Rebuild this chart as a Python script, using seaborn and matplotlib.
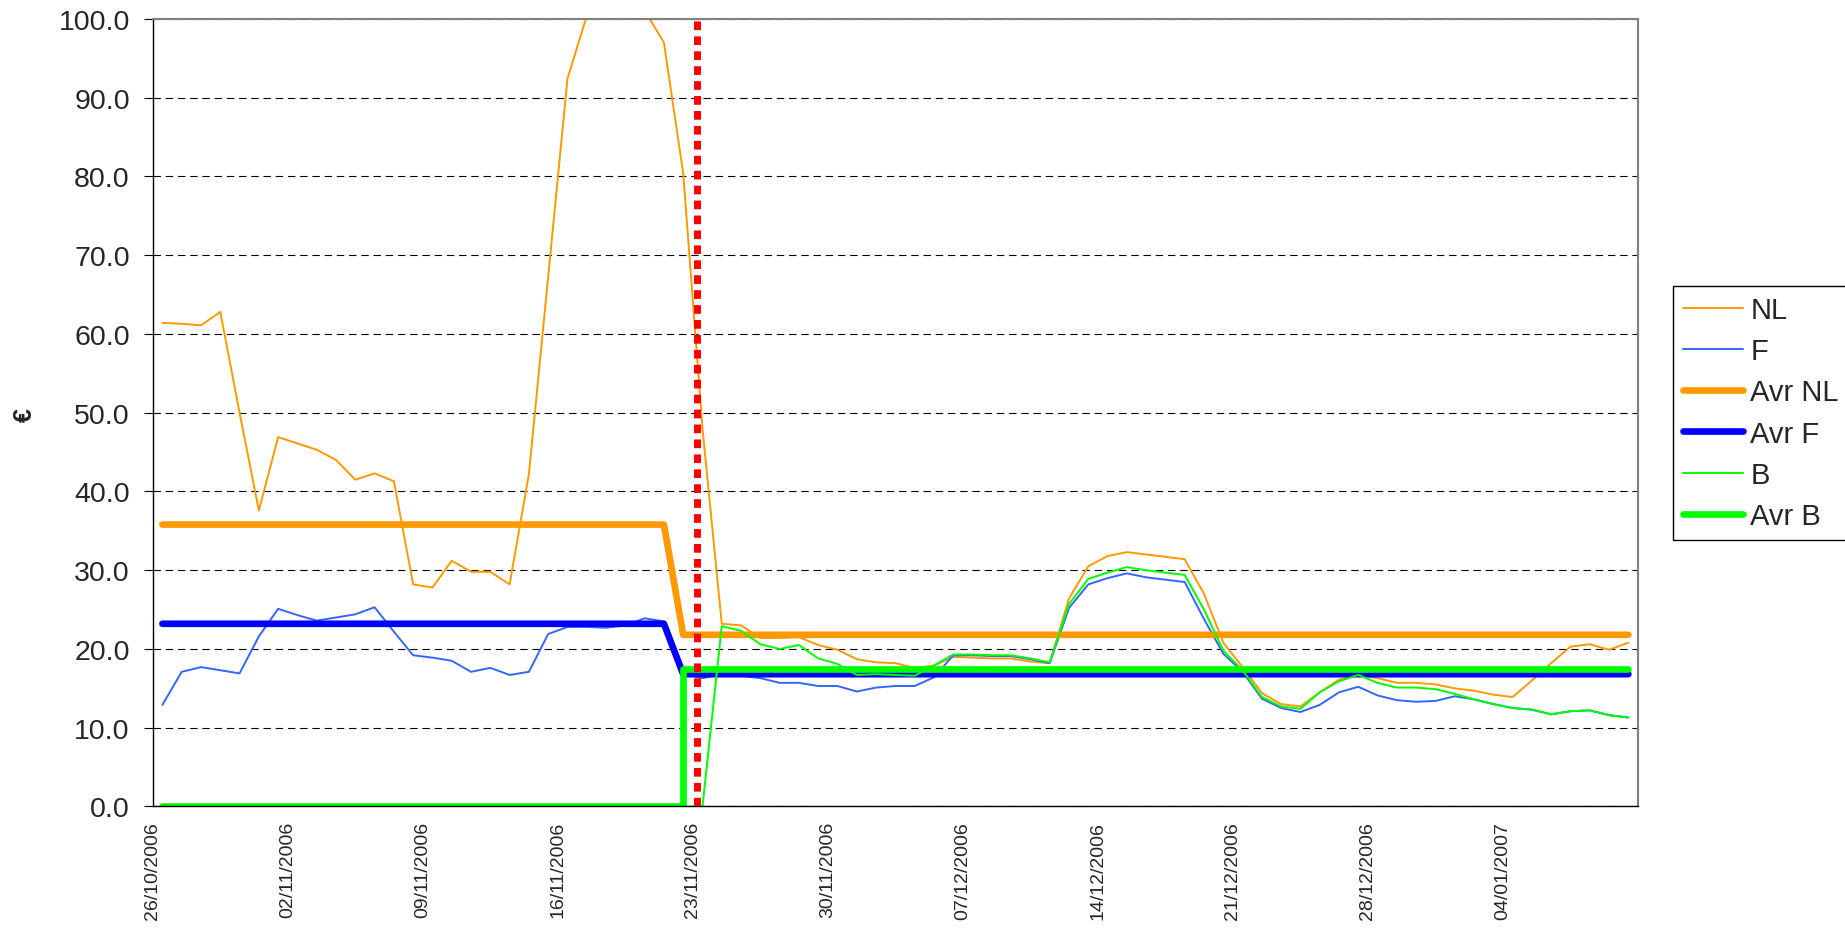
"""
Daily price chart NL / F / B with period averages (26/10/2006 - 10/01/2007)
"""

import pandas as pd
import matplotlib.pyplot as plt
import seaborn as sns

sns.set_style("white")
plt.rcParams['font.family'] = ['Liberation Sans', 'DejaVu Sans']

# ------------------------------------------------------------
# Data
# ------------------------------------------------------------
dates = pd.date_range('2006-10-26', '2007-01-10', freq='D')

nl = [61.4, 61.3, 61.1, 62.8, 50.0, 37.6, 46.9, 46.1, 45.3, 44.0,
      41.5, 42.3, 41.3, 28.2, 27.8, 31.2, 29.8, 29.8, 28.2, 42.2,
      67.3, 92.4, 100.4, 108.0, 107.0, 101.1, 97.0, 80.4, 48.0, 23.2,
      23.0, 21.4, 21.4, 21.5, 20.5, 19.9, 18.7, 18.3, 18.2, 17.6,
      17.9, 19.0, 18.9, 18.8, 18.8, 18.4, 18.2, 26.4, 30.5, 31.8,
      32.3, 32.0, 31.7, 31.4, 27.0, 20.8, 17.7, 14.4, 13.0, 12.7,
      14.5, 16.1, 16.7, 16.3, 15.7, 15.7, 15.5, 15.0, 14.7, 14.2,
      13.9, 16.0, 18.2, 20.3, 20.6, 19.9, 20.8]

f = [12.9, 17.1, 17.7, 17.3, 16.9, 21.6, 25.1, 24.3, 23.6, 24.0,
     24.4, 25.3, 22.2, 19.2, 18.9, 18.5, 17.1, 17.6, 16.7, 17.1,
     21.9, 22.8, 22.8, 22.7, 23.0, 23.9, 23.5, 16.8, 16.3, 16.8,
     16.6, 16.3, 15.7, 15.7, 15.3, 15.3, 14.6, 15.1, 15.3, 15.3,
     16.4, 19.2, 19.2, 19.1, 19.1, 18.7, 18.2, 25.2, 28.2, 29.0,
     29.6, 29.1, 28.8, 28.5, 23.8, 19.4, 17.1, 13.7, 12.5, 12.0,
     12.9, 14.5, 15.2, 14.1, 13.5, 13.3, 13.4, 14.0, 13.6, 13.0,
     12.5, 12.3, 11.7, 12.1, 12.2, 11.6, 11.3]

b = [0.0, 0.0, 0.0, 0.0, 0.0, 0.0, 0.0, 0.0, 0.0, 0.0,
     0.0, 0.0, 0.0, 0.0, 0.0, 0.0, 0.0, 0.0, 0.0, 0.0,
     0.0, 0.0, 0.0, 0.0, 0.0, 0.0, 0.0, 0.0, 0.0, 22.9,
     22.3, 20.6, 20.0, 20.5, 18.8, 18.1, 16.7, 16.8, 16.7, 16.6,
     17.9, 19.3, 19.3, 19.2, 19.2, 18.8, 18.3, 25.7, 28.9, 29.7,
     30.4, 30.0, 29.7, 29.4, 25.0, 19.8, 17.3, 13.9, 12.7, 12.4,
     14.5, 15.9, 16.7, 15.7, 15.1, 15.1, 14.9, 14.3, 13.6, 13.0,
     12.5, 12.3, 11.7, 12.1, 12.2, 11.6, 11.3]

# period averages: before / after the switch on 22/11/2006
avr_nl = [35.8] * 27 + [21.8] * 50
avr_f = [23.2] * 27 + [16.8] * 50
avr_b = [0.0] * 27 + [17.5] * 50

cutover = 28.22   # red marker, shortly after 23/11/2006 00:00

df = pd.DataFrame({'day': [i + 0.5 for i in range(len(dates))],
                   'NL': nl, 'F': f, 'Avr NL': avr_nl,
                   'Avr F': avr_f, 'B': b, 'Avr B': avr_b})

# ------------------------------------------------------------
# Plot
# ------------------------------------------------------------
fig = plt.figure(figsize=(18.45, 9.29), dpi=100)
ax = fig.add_axes([0.0828, 0.1308, 0.805, 0.8477])

styles = [
    ('NL', '#FF9900', 1.4),
    ('F', '#3366FF', 1.4),
    ('Avr NL', '#FF9900', 4.8),
    ('Avr F', '#0000FF', 4.8),
    ('B', '#00FF00', 1.4),
    ('Avr B', '#00FF00', 4.8),
]
for name, color, lw in styles:
    extra = {'drawstyle': 'steps-post'} if name == 'Avr B' else {}
    sns.lineplot(data=df, x='day', y=name, ax=ax, color=color, linewidth=lw,
                 label=name, solid_capstyle='round', **extra)

handles, labels = ax.get_legend_handles_labels()

ax.axvline(cutover, color='#FF0000', linewidth=5, linestyle=(0, (1.25, 0.9)),
           dash_capstyle='butt', zorder=5)

# axes
ax.set_xlim(0, len(dates))
ax.set_ylim(0, 100)
ax.set_xlabel('')
ax.set_ylabel('')

major = list(range(0, len(dates), 7))
ax.set_xticks(major)
ax.set_xticklabels([dates[i].strftime('%d/%m/%Y') for i in major],
                   rotation=90, fontsize=14)
ax.set_xticks(range(0, len(dates) + 1), minor=True)
ax.tick_params(axis='x', which='major', direction='inout', length=8.6,
               width=0.8, pad=6, color='black')
ax.tick_params(axis='x', which='minor', direction='in', length=3,
               width=0.8, color='black')

ax.set_yticks(range(0, 101, 10))
ax.set_yticklabels([f'{v:.1f}' for v in range(0, 101, 10)], fontsize=20.5)
ax.tick_params(axis='y', direction='out', length=6.5, width=0.8, pad=10,
               color='black', left=True)

ax.yaxis.grid(True, color='black', linewidth=0.8, linestyle=(0, (6.7, 4.3)))
ax.xaxis.grid(False)

for side in ['left', 'bottom']:
    ax.spines[side].set_color('black')
    ax.spines[side].set_linewidth(1.0)
for side in ['top', 'right']:
    ax.spines[side].set_color('#808080')
    ax.spines[side].set_linewidth(1.5)

fig.text(25 / 1845, 0.553, '€', rotation=90, fontsize=18, fontweight='bold',
         ha='center', va='center')

leg = ax.legend(handles, labels, loc='upper left',
                bbox_to_anchor=(1673 / 1845, 1 - 287 / 929),
                bbox_transform=fig.transFigure, fontsize=21, frameon=True,
                fancybox=False, edgecolor='black', framealpha=1,
                handlelength=2.05, handletextpad=0.25, labelspacing=0.45,
                borderpad=0.35, borderaxespad=0)
leg.get_frame().set_linewidth(1.0)

fig.savefig('out.png', dpi=100)
